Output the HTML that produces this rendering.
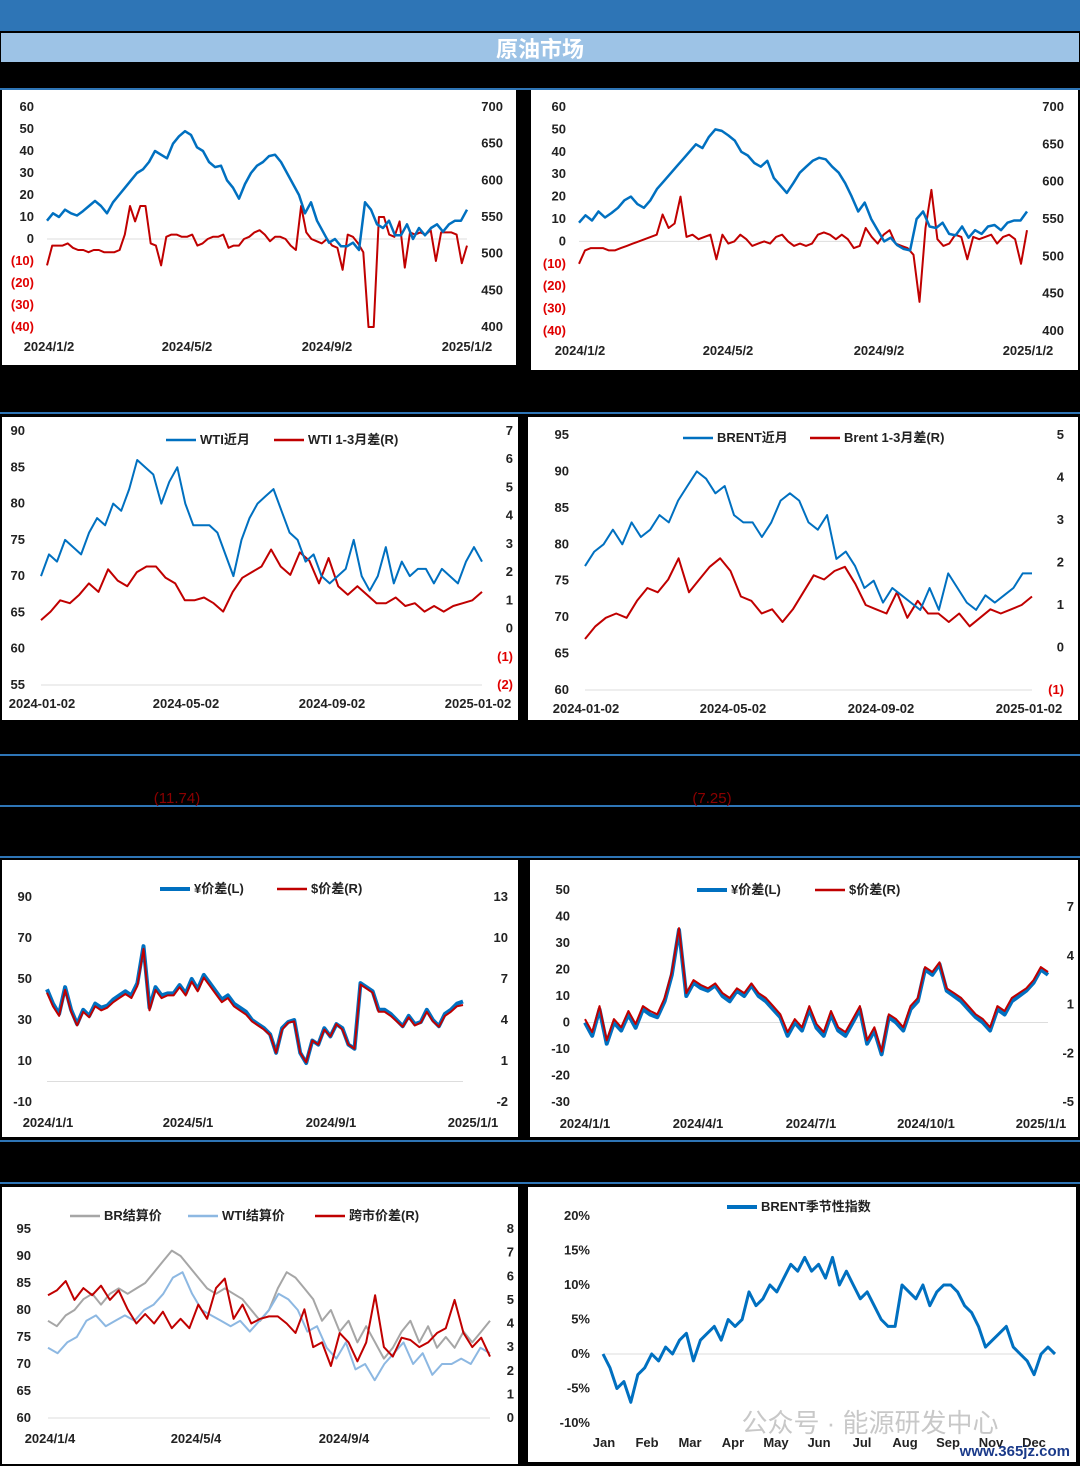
<!DOCTYPE html>
<html><head><meta charset="utf-8"><style>
body{margin:0;background:#000;}
svg{display:block;font-family:"Liberation Sans","Noto Sans CJK SC",sans-serif;font-weight:bold;}
</style></head><body>
<svg id="s" width="1080" height="1466" viewBox="0 0 1080 1466">
<rect x="0" y="0" width="1080" height="1466" fill="#000"/>
<rect x="0" y="0" width="1080" height="31" fill="#2E75B6"/>
<rect x="1" y="33" width="1078" height="29" fill="#9DC3E6"/>
<text x="540" y="57" text-anchor="middle" font-size="22" fill="#fff">原油市场</text>
<g stroke="#2E75B6" stroke-width="2">
<line x1="0" y1="89" x2="1080" y2="89"/><line x1="0" y1="413" x2="1080" y2="413"/>
<line x1="0" y1="755" x2="1080" y2="755"/><line x1="0" y1="806" x2="1080" y2="806"/>
<line x1="0" y1="857" x2="1080" y2="857"/><line x1="0" y1="1141" x2="1080" y2="1141"/>
<line x1="0" y1="1183" x2="1080" y2="1183"/>
</g>
<text x="177" y="803" text-anchor="middle" font-size="15" font-weight="normal" fill="#8B0000">(11.74)</text>
<text x="712" y="803" text-anchor="middle" font-size="15" font-weight="normal" fill="#8B0000">(7.25)</text>
</svg>
<script>
// ---- data ----
const p1Blue=[545,555,550,560,555,552,558,565,572,565,555,570,580,590,600,610,615,625,640,635,630,650,660,667,662,645,640,625,618,620,600,590,575,595,610,620,625,633,635,625,610,595,580,555,570,545,530,515,520,510,510,515,505,570,560,540,535,545,525,525,540,520,535,525,535,540,530,540,545,545,560];
const p1Red=[-12,-3,-3,-3,-2,-4,-5,-5,-6,-5,-5,-6,-6,-6,-5,2,15,8,15,15,-2,-3,-12,1,2,2,1,1,2,-3,-2,0,1,1,2,-4,-3,-3,0,1,3,4,2,-1,1,1,0,-3,-5,15,3,0,-1,-2,0,-3,-4,-14,2,1,-2,-6,-40,-40,10,10,2,1,8,-13,3,2,3,2,4,-10,3,3,3,2,-11,-3];
const p2Blue=[545,555,548,560,552,558,565,575,580,570,565,575,590,600,610,620,630,640,650,645,660,670,668,662,655,640,635,625,620,628,605,595,585,598,612,620,628,632,630,620,612,598,580,560,572,550,535,520,525,515,510,508,550,560,540,538,545,530,528,540,525,535,530,540,542,535,545,548,548,560];
const p2Red=[-10,-4,-3,-3,-3,-4,-4,-3,-2,-1,0,1,2,3,12,6,8,20,2,3,1,2,3,-8,3,-1,0,3,1,-2,-1,0,-1,2,3,0,-2,-1,-2,-1,3,4,3,1,3,1,-3,-2,6,2,-1,3,5,-1,-2,-3,-6,-27,6,23,1,-2,-1,3,2,-8,2,1,2,3,-1,2,3,1,-10,5];
const p3Blue=[70,73,72,75,74,73,76,78,77,80,79,82,86,85,84,80,83,85,80,77,77,77,76,73,70,75,78,80,81,82,79,76,75,72,73,70,69,70,71,75,70,68,70,74,69,72,70,71,71,69,71,70,69,72,74,72];
const p3Red=[0.3,0.6,1.0,0.9,1.2,1.6,1.3,2.1,1.7,1.5,2.0,2.2,2.2,1.8,1.6,1.0,1.0,1.1,0.9,0.6,1.3,1.8,2.0,2.2,2.8,2.2,1.9,2.7,2.4,1.6,2.5,1.5,1.2,1.5,1.2,0.9,0.9,1.1,0.8,0.9,0.6,0.8,0.6,0.8,0.9,1.0,1.3];
const p4Blue=[77,79,80,82,80,83,81,82,84,83,86,88,90,89,87,88,84,83,83,81,83,86,87,86,83,82,84,78,79,77,74,75,72,74,73,72,71,74,71,76,74,72,71,73,72,73,74,76,76];
const p4Red=[0.2,0.5,0.7,0.8,0.7,1.1,1.4,1.3,1.6,2.1,1.3,1.6,1.9,2.1,1.8,1.2,1.1,0.8,0.9,0.6,0.9,1.3,1.7,1.6,1.8,1.9,1.5,1.0,0.9,0.8,1.3,0.7,1.1,0.8,0.8,0.6,0.8,0.5,0.7,0.9,0.8,0.9,1.0,1.2];
const p5Yen=[45,38,33,46,35,28,35,32,38,36,37,40,42,44,42,48,66,36,46,42,43,43,47,43,50,45,52,48,44,40,42,38,36,34,30,28,26,23,14,26,29,30,14,9,20,18,26,22,28,26,18,16,48,46,44,35,35,33,30,27,32,28,29,35,30,27,33,35,38,39];
const p5Usd=[6.0,5.0,4.3,6.2,4.6,3.6,4.6,4.2,5.0,4.7,4.9,5.3,5.6,5.9,5.6,6.5,9.2,4.7,6.2,5.6,5.8,5.8,6.4,5.8,6.8,6.1,7.1,6.5,5.9,5.3,5.6,5.0,4.7,4.4,3.9,3.6,3.3,2.9,1.6,3.3,3.8,3.9,1.6,0.9,2.5,2.2,3.3,2.8,3.7,3.3,2.2,1.9,6.6,6.3,6.0,4.6,4.6,4.3,3.9,3.5,4.2,3.6,3.8,4.6,3.9,3.5,4.3,4.6,5.0,5.1];
const p6Yen=[0,-5,5,-8,0,-3,3,-2,5,3,2,8,18,35,10,15,13,12,14,10,8,12,10,14,10,8,5,2,-5,0,-3,5,-2,-5,3,-3,-5,0,5,-8,-3,-12,2,0,-3,5,8,20,18,22,12,10,8,5,2,0,-3,5,3,8,10,12,15,20,18];
const p6Usd=[0.1,-0.7,0.9,-1.2,0.1,-0.4,0.6,-0.2,0.9,0.6,0.4,1.4,3.0,5.7,1.7,2.5,2.2,2.0,2.3,1.7,1.4,2.0,1.7,2.3,1.7,1.4,0.9,0.4,-0.7,0.1,-0.4,0.9,-0.2,-0.7,0.6,-0.4,-0.7,0.1,0.9,-1.2,-0.4,-1.9,0.4,0.1,-0.4,0.9,1.4,3.3,3.0,3.6,2.0,1.7,1.4,0.9,0.4,0.1,-0.4,0.9,0.6,1.4,1.7,2.0,2.5,3.3,3.0];
const p7Br=[78,77,79,80,82,83,81,83,84,83,84,85,87,89,91,90,88,86,84,83,84,83,82,80,78,80,84,87,86,84,82,78,80,76,78,74,77,74,71,73,76,78,74,77,73,75,73,76,74,76,78];
const p7Wti=[73,72,74,75,78,79,77,78,79,78,80,81,83,86,87,83,80,79,78,77,78,76,78,80,83,82,80,76,77,73,71,74,69,70,67,70,72,74,70,72,68,70,70,71,70,73,72];
const p7Spread=[5.2,5.4,5.8,5.0,5.5,5.2,5.6,5.0,5.4,4.6,4.0,4.4,4.0,4.5,3.8,4.2,3.8,4.8,4.2,5.5,5.9,4.2,4.8,4.0,4.2,4.3,4.3,4.0,3.6,4.6,3.0,3.2,2.2,3.6,3.2,2.4,3.2,5.2,3.0,2.6,3.4,3.3,3.0,3.2,3.6,3.8,5.0,3.6,3.0,3.4,2.6];
const p8Season=[0,-2,-5,-4,-7,-3,-2,0,-1,1,0,2,3,-1,2,3,4,2,5,4,5,9,7,8,10,9,11,13,12,14,12,13,11,14,10,12,10,8,9,7,5,4,4,10,9,8,10,7,9,10,10,9,7,6,4,1,2,3,4,1,0,-1,-3,0,1,0];
const p8Months=["Jan","Feb","Mar","Apr","May","Jun","Jul","Aug","Sep","Nov","Dec"];

const S=document.getElementById('s'),NS='http://www.w3.org/2000/svg';
function el(t,a,p){const e=document.createElementNS(NS,t);for(const k in a)e.setAttribute(k,a[k]);(p||S).appendChild(e);return e;}
function txt(x,y,s,anchor,fill,size,p){const e=el('text',{x:x,y:y,'text-anchor':anchor,fill:fill,'font-size':size},p);e.textContent=s;return e;}
function lin(v0,v1,p0,p1){return v=>p0+(v-v0)*(p1-p0)/(v1-v0);}
function line(vals,x0,x1,sc,color,w,p){const n=vals.length;const d=vals.map((v,i)=>(i?'L':'M')+(x0+(x1-x0)*i/(n-1)).toFixed(1)+','+sc(v).toFixed(1)).join('');return el('path',{d:d,fill:'none',stroke:color,'stroke-width':w,'stroke-linejoin':'round'},p);}
function fmt(v){return v<0?'('+(-v)+')':''+v;}
function plain(v){return ''+v;}
function panel(name,x,y,w,h){const g=el('g',{});el('rect',{x:x,y:y,width:w,height:h,fill:'#fff'},g);return g;}
function ticks(g,vals,sc,x,anchor,negRed,fmtf){vals.forEach(v=>{const t=txt(x,sc(v)+4,(fmtf||fmt)(v),anchor,negRed&&v<0?'#E00000':'#222',13,g);});}
function xt(g,labels,xs,y){labels.forEach((l,i)=>{const t=txt(xs[i],y,l,'middle','#222',13,g);});}
function rng(a,b,s){const r=[];for(let v=a;s>0?v<=b+1e-9:v>=b-1e-9;v+=s)r.push(Math.round(v*100)/100);return r;}
function legend(g,items,y){items.forEach(it=>{const l=el('g',{},g);el('line',{x1:it[0],y1:y,x2:it[0]+30,y2:y,stroke:it[2],'stroke-width':it[3]||2.5},l);txt(it[0]+34,y+4,it[1],'start','#222',13,l);});}

// P1
let g=panel('wti-crack-chart',2,90,514,275);
let L=lin(-40,60,327,107),R=lin(400,700,327,107);
el('line',{x1:47,y1:L(0),x2:467,y2:L(0),stroke:'#ddd','stroke-width':1},g);
ticks(g,rng(60,-40,-10),L,34,'end',true);ticks(g,rng(400,700,50),R,503,'end');
line(p1Red,47,467,L,'#C00000',2,g);
line(p1Blue,47,467,R,'#0070C0',2.5,g);
xt(g,['2024/1/2','2024/5/2','2024/9/2','2025/1/2'],[49,187,327,467],351);
// P2
g=panel('brent-crack-chart',531,90,547,280);
L=lin(-40,60,331,107);R=lin(400,700,331,107);
el('line',{x1:579,y1:L(0),x2:1027,y2:L(0),stroke:'#ddd','stroke-width':1},g);
ticks(g,rng(60,-40,-10),L,566,'end',true);ticks(g,rng(400,700,50),R,1064,'end');
line(p2Red,579,1027,L,'#C00000',2,g);
line(p2Blue,579,1027,R,'#0070C0',2.5,g);
xt(g,['2024/1/2','2024/5/2','2024/9/2','2025/1/2'],[580,728,879,1028],355);
// P3
g=panel('wti-front-month-chart',2,417,516,303);
L=lin(55,90,685,431);R=lin(-2,7,685,431);
el('line',{x1:41,y1:685,x2:482,y2:685,stroke:'#ddd','stroke-width':1},g);
ticks(g,rng(90,55,-5),L,25,'end');ticks(g,rng(7,-2,-1),R,513,'end',true);
line(p3Red,41,482,R,'#C00000',2,g);
line(p3Blue,41,482,L,'#0070C0',2,g);
legend(g,[[166,'WTI近月','#0070C0'],[274,'WTI 1-3月差(R)','#C00000']],440);
xt(g,['2024-01-02','2024-05-02','2024-09-02','2025-01-02'],[42,186,332,478],708);
// P4
g=panel('brent-front-month-chart',528,417,550,303);
L=lin(60,95,690,435);R=lin(-1,5,690,435);
el('line',{x1:585,y1:690,x2:1032,y2:690,stroke:'#ddd','stroke-width':1},g);
ticks(g,rng(95,60,-5),L,569,'end');ticks(g,rng(5,-1,-1),R,1064,'end',true);
line(p4Red,585,1032,R,'#C00000',2,g);
line(p4Blue,585,1032,L,'#0070C0',2,g);
legend(g,[[683,'BRENT近月','#0070C0'],[810,'Brent 1-3月差(R)','#C00000']],438);
xt(g,['2024-01-02','2024-05-02','2024-09-02','2025-01-02'],[586,733,881,1029],713);
// P5
g=panel('wti-sc-spread-chart',2,860,516,277);
L=lin(-10,90,1102,897);R=lin(-2,13,1102,897);
el('line',{x1:47,y1:L(0),x2:463,y2:L(0),stroke:'#ddd','stroke-width':1},g);
ticks(g,rng(90,-10,-20),L,32,'end',false,plain);ticks(g,rng(13,-2,-3),R,508,'end',false,plain);
line(p5Yen,47,463,L,'#0070C0',4,g);
line(p5Usd,47,463,R,'#C00000',2,g);
legend(g,[[160,'¥价差(L)','#0070C0',4],[277,'$价差(R)','#C00000']],889);
xt(g,['2024/1/1','2024/5/1','2024/9/1','2025/1/1'],[48,188,331,473],1127);
// P6
g=panel('brent-sc-spread-chart',530,860,548,277);
L=lin(-30,50,1102,890);R=lin(-5,7,1102,907);
el('line',{x1:585,y1:L(0),x2:1048,y2:L(0),stroke:'#ddd','stroke-width':1},g);
ticks(g,rng(50,-30,-10),L,570,'end',false,plain);ticks(g,rng(7,-5,-3),R,1074,'end',false,plain);
line(p6Yen,585,1048,L,'#0070C0',4,g);
line(p6Usd,585,1048,R,'#C00000',2,g);
legend(g,[[697,'¥价差(L)','#0070C0',4],[815,'$价差(R)','#C00000']],890);
xt(g,['2024/1/1','2024/4/1','2024/7/1','2024/10/1','2025/1/1'],[585,698,811,926,1041],1128);
// P7
g=panel('settlement-price-chart',2,1187,516,277);
L=lin(60,95,1418,1229);R=lin(0,8,1418,1229);
el('line',{x1:48,y1:1418,x2:490,y2:1418,stroke:'#ddd','stroke-width':1},g);
ticks(g,rng(95,60,-5),L,31,'end');ticks(g,rng(8,0,-1),R,514,'end');
line(p7Br,48,490,L,'#A6A6A6',2,g);
line(p7Wti,48,490,L,'#8DB8E2',2,g);
line(p7Spread,48,490,R,'#C00000',2,g);
legend(g,[[70,'BR结算价','#A6A6A6'],[188,'WTI结算价','#8DB8E2'],[315,'跨市价差(R)','#C00000']],1216);
xt(g,['2024/1/4','2024/5/4','2024/9/4'],[50,196,344],1443);
// P8
g=panel('brent-seasonality-chart',528,1187,548,275);
L=lin(-10,20,1423,1216);
el('line',{x1:603,y1:L(0),x2:1055,y2:L(0),stroke:'#ddd','stroke-width':1},g);
ticks(g,rng(20,-10,-5),L,590,'end',false,v=>v+'%');
line(p8Season,603,1055,L,'#0070C0',3,g);
legend(g,[[727,'BRENT季节性指数','#0070C0',4]],1207);
xt(g,p8Months,p8Months.map((m,i)=>604+i*43),1447);
let w=txt(870,1432,'公众号 · 能源研发中心','middle','#bbb',26,g);w.setAttribute('font-weight','normal');w.setAttribute('opacity','0.8');


let w2=txt(1070,1456,'www.365jz.com','end','#1a3a8a',15,g);


</script>
</body></html>
